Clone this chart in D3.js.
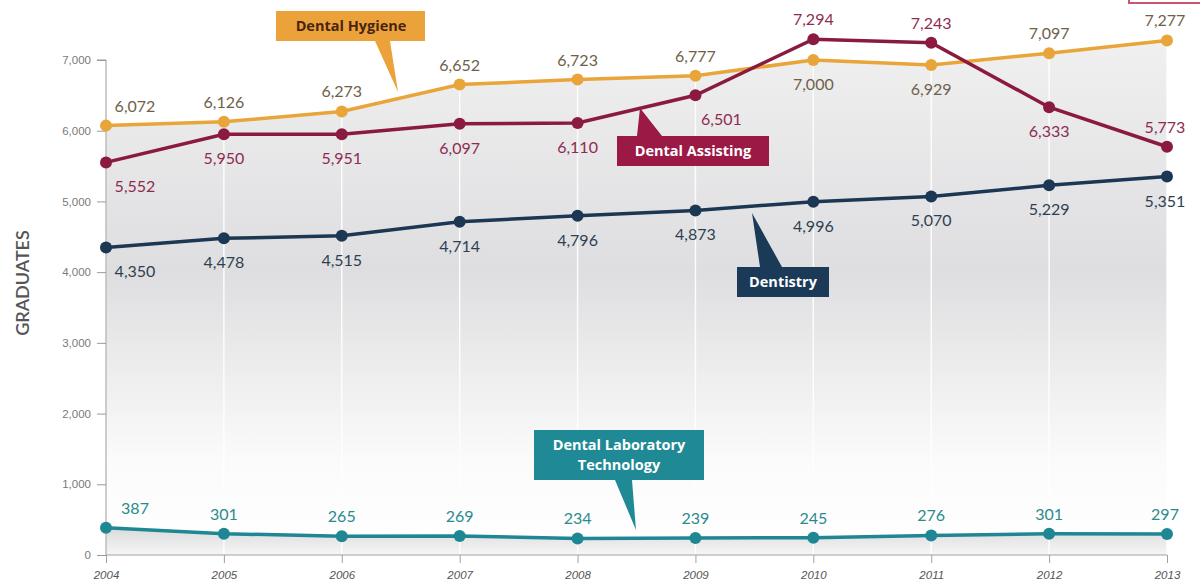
<!DOCTYPE html>
<html>
<head>
<meta charset="utf-8">
<script src="https://cdn.jsdelivr.net/npm/d3@7"></script>
<style>
  body { margin: 0; background: #fff; }
  svg { display: block; font-family: Lato, "Open Sans", sans-serif; }
</style>
</head>
<body>
<svg width="1200" height="587"></svg>
<script>
const years = [2004, 2005, 2006, 2007, 2008, 2009, 2010, 2011, 2012, 2013];
const hygiene   = [6072, 6126, 6273, 6652, 6723, 6777, 7000, 6929, 7097, 7277];
const assisting = [5552, 5950, 5951, 6097, 6110, 6501, 7294, 7243, 6333, 5773];
const dentistry = [4350, 4478, 4515, 4714, 4796, 4873, 4996, 5070, 5229, 5351];
const labtech   = [387, 301, 265, 269, 234, 239, 245, 276, 301, 297];
const yTicks = [0, 1000, 2000, 3000, 4000, 5000, 6000, 7000];

// where each value label sits: a = above, b = below
const hygPlace  = ['a','a','a','a','a','a','b','b','a','a'];
const asstPlace = ['b','b','b','b','b','b','a','a','b','a'];
const dentPlace = ['b','b','b','b','b','b','b','b','b','b'];
const labPlace  = ['a','a','a','a','a','a','a','a','a','a'];

const svg = d3.select('svg');
const fmt = d3.format(',');

const x = d3.scalePoint().domain(years).range([106, 1167]);
const y = d3.scaleLinear().domain([0, 7000]).range([555, 60]);

const defs = svg.append('defs');
const g1 = defs.append('linearGradient').attr('id', 'bg')
  .attr('gradientUnits', 'userSpaceOnUse')
  .attr('x1', 0).attr('x2', 0).attr('y1', 40).attr('y2', 555);
g1.append('stop').attr('offset', 0).attr('stop-color', '#f0f0f1');
g1.append('stop').attr('offset', 0.45).attr('stop-color', '#dedee0');
g1.append('stop').attr('offset', 0.82).attr('stop-color', '#fbfbfb');
g1.append('stop').attr('offset', 1).attr('stop-color', '#ffffff');
const g2 = defs.append('linearGradient').attr('id', 'bg2')
  .attr('gradientUnits', 'userSpaceOnUse')
  .attr('x1', 0).attr('x2', 0).attr('y1', 520).attr('y2', 555);
g2.append('stop').attr('offset', 0).attr('stop-color', '#d2d3d5');
g2.append('stop').attr('offset', 1).attr('stop-color', '#f6f6f6');

const area = d3.area().x((d, i) => x(years[i])).y0(y(0)).y1(d => y(d));
svg.append('path').datum(hygiene).attr('d', area).attr('fill', 'url(#bg)');
svg.append('path').datum(labtech).attr('d', area).attr('fill', 'url(#bg2)');

// white year guides
svg.append('g').selectAll('line').data(years).join('line')
  .attr('x1', d => x(d)).attr('x2', d => x(d))
  .attr('y1', y(0)).attr('y2', (d, i) => y(hygiene[i]))
  .attr('stroke', '#fff').attr('stroke-width', 1.5).attr('opacity', 0.9);

// axes
const yAxis = svg.append('g').attr('transform', `translate(${x(2004)},0)`)
  .call(d3.axisLeft(y).tickValues(yTicks).tickFormat(fmt).tickSize(9).tickPadding(6));
yAxis.select('.domain').attr('stroke', '#9a9a9a').attr('d', `M-9,${y(7000)}H0V${y(0)}`);
yAxis.selectAll('.tick line').attr('stroke', '#9a9a9a');
yAxis.selectAll('.tick text').attr('fill', '#7a7a7a').attr('font-size', 11.5);

const xAxis = svg.append('g').attr('transform', `translate(0,${y(0)})`)
  .call(d3.axisBottom(x).tickSize(8).tickPadding(8));
xAxis.select('.domain').attr('stroke', '#a0a0a0').attr('d', `M${x(2004)},0H${x(2013)}`);
xAxis.selectAll('.tick line').attr('stroke', '#a0a0a0');
xAxis.selectAll('.tick text').attr('fill', '#555').attr('font-size', 11.5)
  .attr('font-style', 'italic');

svg.append('text')
  .attr('transform', 'translate(29,283) rotate(-90)')
  .attr('text-anchor', 'middle')
  .attr('fill', '#555').attr('font-size', 18).attr('font-weight', 600)
  .text('GRADUATES');

const line = d3.line().x((d, i) => x(years[i])).y(d => y(d));

function series(data, place, color, labelColor) {
  const g = svg.append('g');
  g.append('path').datum(data).attr('d', line)
    .attr('fill', 'none').attr('stroke', color).attr('stroke-width', 3.5);
  g.selectAll('circle').data(data).join('circle')
    .attr('cx', (d, i) => x(years[i])).attr('cy', d => y(d)).attr('r', 6)
    .attr('fill', color);
  g.selectAll('text').data(data).join('text')
    .attr('x', (d, i) => x(years[i]) + (i === 0 ? 29 : (i === 9 ? -2 : 0)))
    .attr('y', (d, i) => y(d) + (place[i] === 'a' ? -14 : 30))
    .attr('text-anchor', 'middle')
    .attr('fill', labelColor).attr('font-size', 16)
    .text(d => fmt(d));
  return g;
}

series(labtech, labPlace, '#1f8793', '#2a8a8e');
series(dentistry, dentPlace, '#1c3753', '#2e3f52');
series(hygiene, hygPlace, '#e9a53a', '#6e6149');
const asst = series(assisting, asstPlace, '#8a1b3f', '#8e2c50');
asst.selectAll('text').filter((d, i) => i === 5).attr('x', x(2009) + 26);

// callouts
function callout(pts, color, lines, tx, ty, textColor) {
  svg.append('path').attr('d', 'M' + pts.join('L') + 'Z').attr('fill', color);
  const t = svg.append('text').attr('text-anchor', 'middle')
    .attr('font-family', '"Open Sans", sans-serif')
    .attr('fill', textColor).attr('font-size', 14.5).attr('font-weight', 700);
  lines.forEach((s, i) => t.append('tspan').attr('x', tx).attr('y', ty + i * 20).text(s));
}
callout([[276,11],[425,11],[425,41],[390,41],[398,92],[375,41],[276,41]],
  '#eba23a', ['Dental Hygiene'], 351, 31, '#4a2412');
callout([[617,136],[637,136],[640,108],[662,136],[769,136],[769,166],[617,166]],
  '#9b1a45', ['Dental Assisting'], 693, 156, '#fff');
callout([[737,267],[760,267],[752,213],[782,267],[829,267],[829,297],[737,297]],
  '#1b3a58', ['Dentistry'], 783, 287, '#fff');
callout([[534,430],[704,430],[704,480],[632,480],[636,530],[615,480],[534,480]],
  '#1f8a95', ['Dental Laboratory', 'Technology'], 619, 450, '#fff');

// cut-off box at top right
svg.append('rect').attr('x', 1129).attr('y', -10).attr('width', 90).attr('height', 13)
  .attr('fill', '#fff').attr('stroke', '#c8566e').attr('stroke-width', 2);
</script>
</body>
</html>
